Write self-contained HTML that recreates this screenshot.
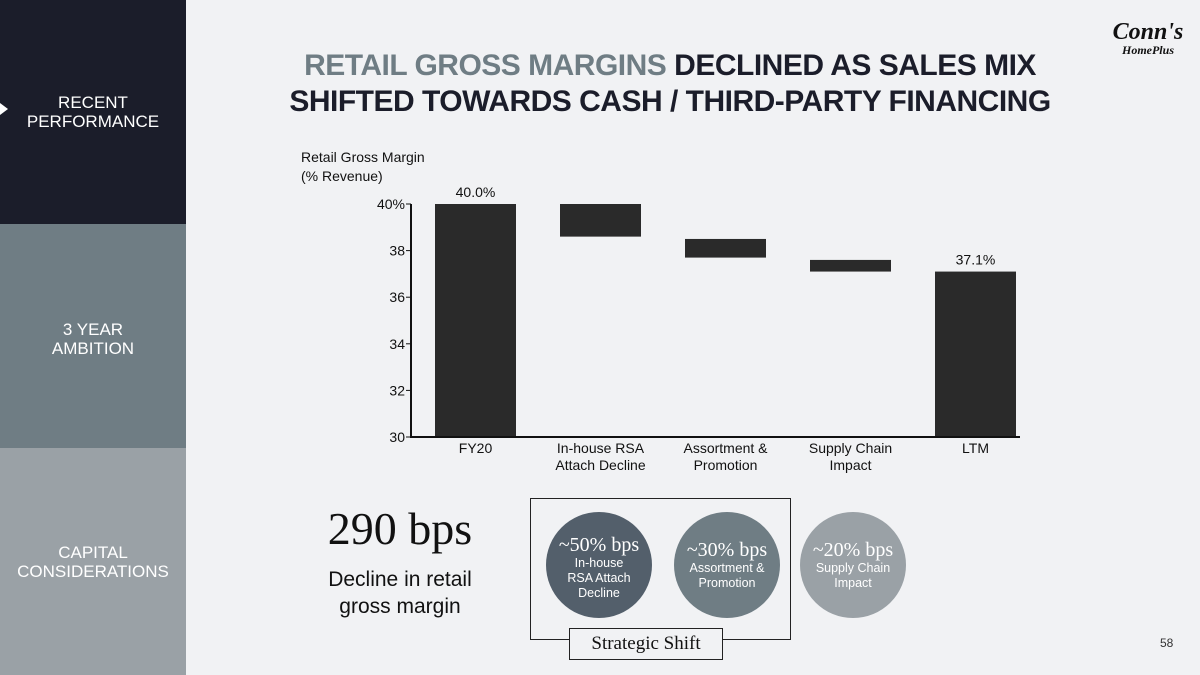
<!DOCTYPE html>
<html><head><meta charset="utf-8"><style>
body{margin:0;width:1200px;height:675px;overflow:hidden;background:#f1f2f4;font-family:"Liberation Sans",sans-serif;position:relative}
.side{position:absolute;left:0;width:186px;color:#fff;font-size:17px;text-align:center;line-height:19px}
.abs{position:absolute}
.circ{position:absolute;width:106px;height:106px;border-radius:50%;color:#fff;text-align:center;box-sizing:border-box}
.circ .b{font-family:"Liberation Serif",serif;font-size:20px;line-height:22px}
.circ .s{font-size:12.5px;line-height:15px}
</style></head><body>
<div class="side" style="top:0;height:224px;background:#1b1d2a"><div style="position:absolute;top:93px;width:100%">RECENT<br>PERFORMANCE</div></div>
<div class="abs" style="left:0;top:103px;width:0;height:0;border-top:6px solid transparent;border-bottom:6px solid transparent;border-left:8px solid #fff"></div>
<div class="side" style="top:224px;height:224px;background:#6f7d84"><div style="position:absolute;top:96px;width:100%">3 YEAR<br>AMBITION</div></div>
<div class="side" style="top:448px;height:227px;background:#9aa1a6"><div style="position:absolute;top:95px;width:100%">CAPITAL<br>CONSIDERATIONS</div></div>
<div class="abs" style="left:240px;top:48px;width:860px;text-align:center;font-size:30px;font-weight:bold;line-height:36px;color:#1b1d2a;letter-spacing:-0.5px"><span style="color:#6f7d84">RETAIL GROSS MARGINS</span> DECLINED AS SALES MIX<br>SHIFTED TOWARDS CASH / THIRD-PARTY FINANCING</div>
<div class="abs" style="left:1108px;top:20px;width:80px;text-align:center;color:#111"><div style="font-family:'Liberation Serif',serif;font-style:italic;font-weight:bold;font-size:24px;line-height:24px">Conn's</div><div style="font-family:'Liberation Serif',serif;font-weight:bold;font-style:italic;font-size:12px;line-height:12px">HomePlus</div></div>
<svg class="abs" style="left:0;top:0" width="1200" height="500">
<text x="301" y="162" font-size="14" fill="#111">Retail Gross Margin</text>
<text x="301" y="181" font-size="14" fill="#111">(% Revenue)</text>
<g id="g"></g>
</svg>
<div class="abs" style="left:300px;top:502px;width:200px;text-align:center;font-family:'Liberation Serif',serif;font-size:46px;color:#111">290 bps</div>
<div class="abs" style="left:300px;top:566px;width:200px;text-align:center;font-size:21px;line-height:27px;color:#111">Decline in retail<br>gross margin</div>
<div class="abs" style="left:530px;top:498px;width:259px;height:140px;border:1.5px solid #222"></div>
<div class="circ" style="left:546px;top:512px;background:#535f6b;padding-top:22px"><div class="b">~50% bps</div><div class="s">In-house<br>RSA Attach<br>Decline</div></div>
<div class="circ" style="left:674px;top:512px;background:#6f7d84;padding-top:27px"><div class="b">~30% bps</div><div class="s">Assortment &amp;<br>Promotion</div></div>
<div class="circ" style="left:800px;top:512px;background:#9aa1a6;padding-top:27px"><div class="b">~20% bps</div><div class="s">Supply Chain<br>Impact</div></div>
<div class="abs" style="left:569px;top:628px;width:152px;height:30px;background:#f1f2f4;border:1.5px solid #222;text-align:center;font-family:'Liberation Serif',serif;font-size:19px;line-height:30px;color:#111">Strategic Shift</div>
<div class="abs" style="left:1160px;top:636px;font-size:12px;color:#333">58</div>
<script>
const categories=[["FY20"],["In-house RSA","Attach Decline"],["Assortment &","Promotion"],["Supply Chain","Impact"],["LTM"]];
const barTops=[40.0,40.0,38.5,37.6,37.1];
const barBottoms=[30,38.6,37.7,37.1,30];
const valueLabels=["40.0%","","","","37.1%"];
const yTicks=[30,32,34,36,38,40];
const tickLabels=["30","32","34","36","38","40%"];
const NS="http://www.w3.org/2000/svg",g=document.getElementById("g");
const y=v=>437-(v-30)*23.3, x=i=>475.5+i*125;
function mk(t,a,txt){const e=document.createElementNS(NS,t);for(const k in a)e.setAttribute(k,a[k]);if(txt)e.textContent=txt;g.appendChild(e);return e;}
categories.forEach((c,i)=>{
 const r=mk("rect",{x:x(i)-40.5,y:y(barTops[i]),width:81,height:y(barBottoms[i])-y(barTops[i]),fill:"#2a2a2a"});
 
 
 if(valueLabels[i]){const t=mk("text",{x:x(i),y:y(barTops[i])-7,"text-anchor":"middle","font-size":14,fill:"#111"},valueLabels[i]);
 
 }
 c.forEach((l,j)=>{const t=mk("text",{x:x(i),y:453+j*17,"text-anchor":"middle","font-size":14,fill:"#111"},l);
 
 });
});
const ax=mk("path",{d:`M411 ${y(40)} V${y(30)} H1020`,stroke:"#111","stroke-width":2,fill:"none"});


yTicks.forEach((v,i)=>{mk("line",{x1:406,x2:411,y1:y(v),y2:y(v),stroke:"#111"});
 const t=mk("text",{x:405,y:y(v)+5,"text-anchor":"end","font-size":14,fill:"#111"},tickLabels[i]);
 
 });
</script>
</body></html>
